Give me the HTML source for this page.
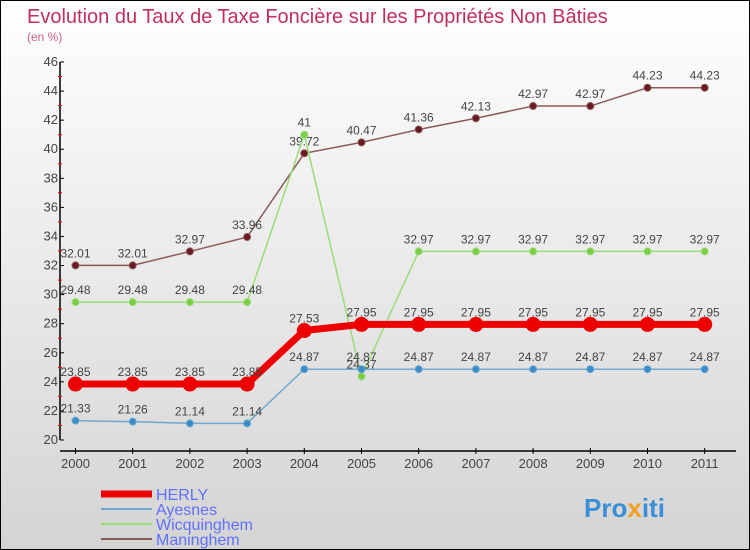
<!DOCTYPE html>
<html><head><meta charset="utf-8"><style>
body{margin:0}
#c{width:748px;height:548px;border:1px solid #000;background:linear-gradient(#fff,#d4d4d4);position:relative;overflow:hidden;font-family:"Liberation Sans",sans-serif}
text{font-family:"Liberation Sans",sans-serif}
</style></head><body>
<div id="c">
<svg id="s" width="748" height="548">
<text x="26" y="22" font-size="20" fill="#c0305a">Evolution du Taux de Taxe Foncière sur les Propriétés Non Bâties</text>
<text x="26" y="40" font-size="12" fill="#d06080">(en %)</text>
<g id="ax"></g><g id="series"></g><g id="legend"></g>
<text x="583" y="516" font-size="26" font-weight="bold" fill="#3b8fd6">Pro<tspan fill="#f0a020">x</tspan><tspan fill="#3b8fd6">iti</tspan></text>
</svg></div>
<script>
const years=[2000,2001,2002,2003,2004,2005,2006,2007,2008,2009,2010,2011];
const herly=[23.85,23.85,23.85,23.85,27.53,27.95,27.95,27.95,27.95,27.95,27.95,27.95];
const ayesnes=[21.33,21.26,21.14,21.14,24.87,24.87,24.87,24.87,24.87,24.87,24.87,24.87];
const wicq=[29.48,29.48,29.48,29.48,41,24.37,32.97,32.97,32.97,32.97,32.97,32.97];
const maning=[32.01,32.01,32.97,33.96,39.72,40.47,41.36,42.13,42.97,42.97,44.23,44.23];
const yTicks=[20,22,24,26,28,30,32,34,36,38,40,42,44,46];
const seriesNames=["HERLY","Ayesnes","Wicquinghem","Maninghem"];
const NS="http://www.w3.org/2000/svg";
const X=i=>74.5+i*57.2, Y=v=>439-(v-20)*(378/26);
function mk(t,a,p){const e=document.createElementNS(NS,t);for(const k in a)e.setAttribute(k,a[k]);p.appendChild(e);return e;}
const ax=document.getElementById('ax');
let l=mk('line',{x1:59,y1:Y(46),x2:59,y2:Y(20),stroke:'#000','stroke-width':1.5},ax);


yTicks.forEach(v=>{
 const t=mk('line',{x1:59,x2:63,y1:Y(v),y2:Y(v),stroke:'#000'},ax);
 
 
 if(v<46){const r=mk('line',{x1:57,x2:61,y1:Y(v+1),y2:Y(v+1),stroke:'#e00'},ax);
 
 }
 const tx=mk('text',{x:57,y:Y(v)+4,'font-size':13,fill:'#444','text-anchor':'end'},ax);tx.textContent=v;
 
 
});
l=mk('line',{x1:59,y1:450,x2:735,y2:450,stroke:'#000','stroke-width':1.5},ax);


years.forEach((y,i)=>{
 const t=mk('line',{x1:X(i),x2:X(i),y1:447,y2:453,stroke:'#000'},ax);
 
 
 const tx=mk('text',{x:X(i),y:467,'font-size':13,fill:'#444','text-anchor':'middle'},ax);tx.textContent=y;
 
 
});
const sg=document.getElementById('series');
function draw(vals,col,w,r,dot,name){
 const g=mk('g',{},sg);
 
 
 const p=mk('polyline',{points:vals.map((v,i)=>X(i)+','+Y(v)).join(' '),fill:'none',stroke:col,'stroke-width':w},g);
 
 
 vals.forEach((v,i)=>{
  const c=mk('circle',{cx:X(i),cy:Y(v),r:r,fill:dot,stroke:col,'stroke-width':1},g);
  
  
  const t=mk('text',{x:X(i),y:Y(v)-8,'font-size':12,fill:'#444','text-anchor':'middle'},g);t.textContent=v.toFixed(2).replace(/\.00$/,'');
  
  
 });
}
draw(maning,'#8b5a5a',1.5,3.5,'#6a1a20','maninghem-series');
draw(wicq,'#99dd77',1.5,3.5,'#7ccc44','wicquinghem-series');
draw(ayesnes,'#6fa8d0',1.5,3.5,'#3a8cc8','ayesnes-series');
draw(herly,'#ee0000',7,7,'#ee0000','herly-series');
const lg=document.getElementById('legend');
const lc=['#ee0000','#6fa8d0','#99dd77','#8b5a5a'],lw=[7,2,2,2];
seriesNames.forEach((n,i)=>{
 const y=493+i*15;
 const li=mk('line',{x1:100,x2:151,y1:y,y2:y,stroke:lc[i],'stroke-width':lw[i]},lg);
 
 
 const t=mk('text',{x:155,y:y+6,'font-size':16,fill:'#6070ff'},lg);t.textContent=n;
 
 
});
</script>
</body></html>
